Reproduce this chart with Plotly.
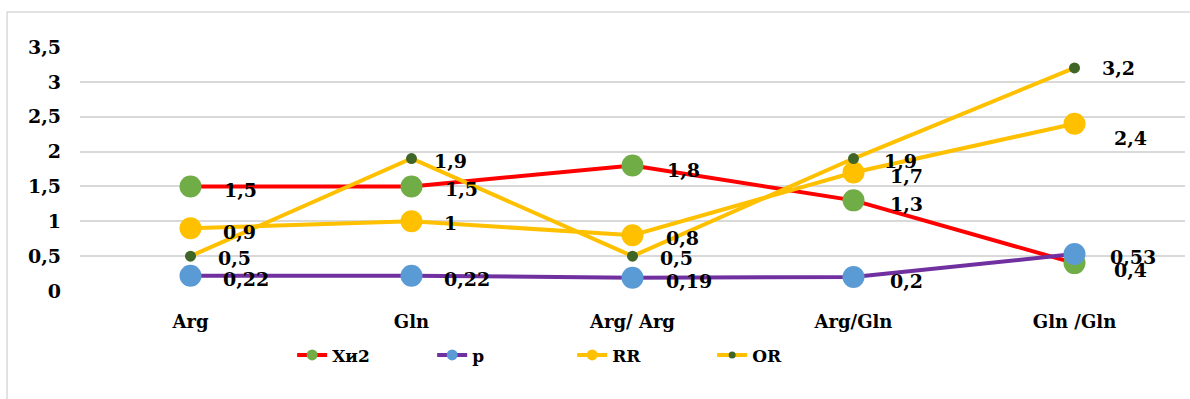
import plotly.graph_objects as go

# Genotype groups on the x axis
categories = ["Arg", "Gln", "Arg/ Arg", "Arg/Gln", "Gln /Gln"]

# Statistic series
chi2_values = [1.5, 1.5, 1.8, 1.3, 0.4]
p_values = [0.22, 0.22, 0.19, 0.2, 0.53]
rr_values = [0.9, 1.0, 0.8, 1.7, 2.4]
or_values = [0.5, 1.9, 0.5, 1.9, 3.2]

y_ticks = [0, 0.5, 1, 1.5, 2, 2.5, 3, 3.5]
y_tick_labels = ["0", "0,5", "1", "1,5", "2", "2,5", "3", "3,5"]

FONT = "DejaVu Serif"

series = [
    # name, values, line colour, marker colour, marker size, legend marker size,
    # data-label offsets in px
    ("Хи2", chi2_values, "#FF0000", "#70AD47", 22, 11,
     [(31, -4), (31, -3), (32, -4), (34, -4), (37, -7)]),
    ("p", p_values, "#7030A0", "#5B9BD5", 22, 11,
     [(30, -3), (30, -3), (31, -3), (34, -4), (33, -3)]),
    ("RR", rr_values, "#FFC000", "#FFC000", 22, 11,
     [(30, -4), (30, -2), (31, -3), (34, -4), (37, -14)]),
    ("OR", or_values, "#FFC000", "#3F6527", 11, 7,
     [(25, -2), (20, -2), (25, -2), (28, -2), (25, 0)]),
]


def fmt(v):
    return f"{v:g}".replace(".", ",")


fig = go.Figure()
annotations = []
for name, vals, line_col, mk_col, mk_size, leg_size, offsets in series:
    fig.add_trace(go.Scatter(
        x=categories, y=vals, name=name, mode="lines+markers",
        line=dict(color=line_col, width=4),
        marker=dict(color=mk_col, size=mk_size, line=dict(width=0)),
        showlegend=False,
    ))
    for cat, v, (dx, dy) in zip(categories, vals, offsets):
        annotations.append(dict(
            x=cat, y=v, xref="x", yref="y", text=f"<b>{fmt(v)}</b>",
            showarrow=False, xanchor="left", yanchor="middle",
            xshift=dx, yshift=dy,
            font=dict(family=FONT, size=19, color="black"),
        ))

# Legend entries with smaller symbols than the plotted markers
for name, vals, line_col, mk_col, mk_size, leg_size, offsets in series:
    fig.add_trace(go.Scatter(
        x=[None], y=[None], name=f"<b>{name}</b>", mode="lines+markers",
        line=dict(color=line_col, width=4),
        marker=dict(color=mk_col, size=leg_size, line=dict(width=0)),
        showlegend=True,
    ))

fig.update_layout(
    width=1190, height=399,
    margin=dict(l=80, r=5, t=47, b=108),
    paper_bgcolor="white", plot_bgcolor="white",
    annotations=annotations,
    showlegend=True,
    legend=dict(
        orientation="h", x=0.192, xanchor="left", y=-0.19, yanchor="top",
        entrywidth=95, entrywidthmode="pixels",
        font=dict(family=FONT, size=17, color="black"),
        bgcolor="rgba(0,0,0,0)",
    ),
    xaxis=dict(
        type="category", range=[-0.5, 4.5], showgrid=False, showline=False,
        zeroline=False, ticks="", ticklabelstandoff=18,
        tickfont=dict(family=FONT, size=18, color="black", weight="bold"),
    ),
    yaxis=dict(
        range=[0, 3.5], tickvals=y_ticks, ticktext=y_tick_labels,
        showgrid=True, gridcolor="#D9D9D9", gridwidth=1.5,
        zeroline=False, showline=False, ticks="", ticklabelstandoff=18,
        tickfont=dict(family=FONT, size=19, color="black", weight="bold"),
    ),
    shapes=[dict(
        type="rect", xref="paper", yref="paper",
        x0=-0.066, x1=1.01, y0=-0.5, y1=1.143,
        line=dict(color="#D9D9D9", width=1.5), fillcolor="rgba(0,0,0,0)",
        layer="below",
    )],
)

fig.write_html("out.html")
